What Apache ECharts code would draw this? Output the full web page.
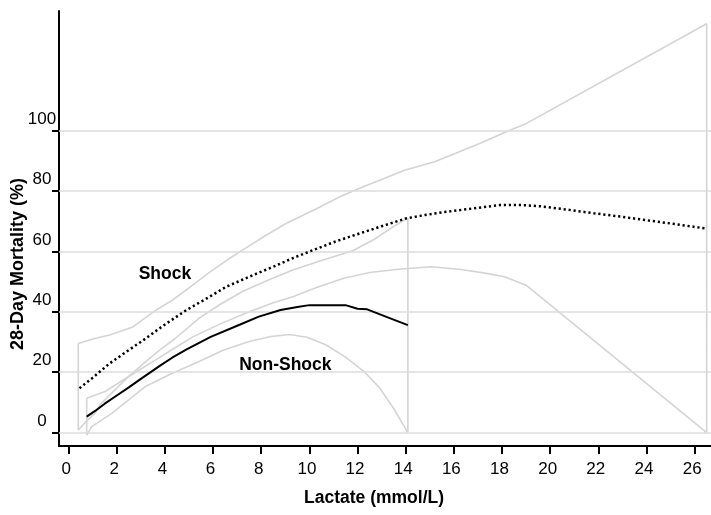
<!DOCTYPE html>
<html>
<head>
<meta charset="utf-8">
<script src="https://cdn.jsdelivr.net/npm/echarts@6/dist/echarts.min.js"></script>
<style>
html,body{margin:0;padding:0;background:#fff;}
#main{width:711px;height:515px;}
</style>
</head>
<body>
<div id="main"></div>
<script>
// ---- data (lactate mmol/L, 28-day mortality %) ----
const xTicks = [0,2,4,6,8,10,12,14,16,18,20,22,24,26];
const yTicks = [0,20,40,60,80,100];
const groupNames = ['Shock','Non-Shock'];

const shockEstimate = [[0.45,14.7],[1.0,18.2],[1.7,22.9],[2.4,26.8],[3.1,30.6],[4.0,35.8],[4.9,40.6],[5.86,45.0],[6.55,48.3],[7.65,52.1],[8.5,54.9],[9.3,57.7],[10.15,60.4],[11.1,63.3],[12.08,65.9],[13.0,68.3],[14.02,70.9],[14.8,72.0],[15.7,73.1],[16.8,74.2],[17.9,75.3],[18.8,75.3],[19.6,74.9],[20.7,73.8],[21.8,72.6],[22.9,71.5],[24.0,70.3],[25.2,69.0],[26.5,67.5]];
const shockUpper = [[0.4,29.5],[1.0,31.0],[1.7,32.3],[2.67,35.0],[3.64,40.6],[4.32,43.9],[5.1,48.5],[5.86,53.1],[6.6,57.2],[7.3,60.8],[8.2,65.3],[9.05,69.3],[10.42,74.6],[11.2,77.8],[12.08,80.9],[12.92,83.5],[13.95,86.8],[15.2,89.6],[16.1,92.5],[17.07,95.7],[18.3,100.0],[18.94,102.0],[26.5,135.3]];
const shockLower = [[0.4,0.9],[0.7,3.5],[1.09,6.4],[1.3,9.2],[1.9,14.0],[2.48,18.5],[3.5,23.5],[4.5,28.5],[5.16,31.7],[6.3,36.0],[7.5,40.0],[8.5,43.0],[9.31,45.0],[10.3,48.0],[11.39,51.0],[12.5,53.0],[13.6,54.0],[14.09,54.3],[15.06,54.9],[16.3,54.0],[17.35,52.7],[18.1,51.6],[19.0,48.8],[26.5,0]];

const nonShockEstimate = [[0.75,5.3],[1.1,7.2],[1.5,9.6],[2.0,12.3],[2.5,15.0],[3.0,17.8],[3.8,22.2],[4.3,24.8],[4.9,27.6],[5.9,31.7],[7.1,35.7],[7.9,38.4],[8.8,40.6],[9.5,41.6],[10.0,42.2],[11.5,42.2],[12.0,41.0],[12.4,40.8],[13.2,38.3],[14.09,35.6]];
const nonShockUpper = [[0.75,11.4],[1.51,13.6],[2.48,18.5],[3.2,23.5],[3.78,27.3],[4.4,31.0],[5.44,38.0],[6.3,42.5],[7.24,46.8],[8.3,50.5],[9.31,53.8],[10.5,57.0],[11.8,60.2],[12.7,64.0],[13.47,68.1],[14.09,71.0]];
const nonShockLower = [[0.75,-0.8],[0.96,2.0],[1.79,6.4],[3.17,15.2],[4.28,19.6],[5.4,23.5],[6.41,27.3],[7.5,30.2],[8.4,31.8],[9.18,32.5],[9.9,31.6],[10.7,29.0],[11.5,25.0],[12.3,20.0],[12.9,15.0],[13.5,8.0],[14.09,0]];

// closed confidence bands (upper -> lower reversed -> close)
function band(upper, lower){
  return upper.concat(lower.slice().reverse(), [upper[0]]);
}

const FONT = '"Liberation Sans", Arial, sans-serif';
const GRAY = '#d4d4d4';

const chart = echarts.init(document.getElementById('main'), null, {renderer:'canvas'});
chart.setOption({
  animation:false,
  backgroundColor:'#ffffff',
  grid:{left:59, right:0, top:11, bottom:69, containLabel:false},
  xAxis:{
    type:'value', min:-0.4, max:26.68,
    axisLine:{show:true, onZero:false, lineStyle:{color:'#000', width:2}},
    axisTick:{show:true, length:8, lineStyle:{color:'#000', width:2}, customValues:xTicks},
    axisLabel:{show:true, customValues:xTicks, margin:15, color:'#000', fontSize:17, fontFamily:FONT, padding:[0,5,0,0]},
    splitLine:{show:false}
  },
  yAxis:{
    type:'value', min:-4.4, max:139.5,
    axisLine:{show:true, onZero:false, lineStyle:{color:'#000', width:2}},
    axisTick:{show:true, length:7, lineStyle:{color:'#000', width:2}, customValues:yTicks},
    axisLabel:{show:true, customValues:yTicks, margin:17, align:'center', verticalAlign:'bottom', padding:[0,0,3,0], color:'#000', fontSize:17, fontFamily:FONT},
    splitLine:{show:false}
  },
  graphic:[
    {type:'text', x:18.5, y:264, rotation:Math.PI/2,
     style:{text:'28-Day Mortality (%)', font:'bold 18px '+FONT, fill:'#000', align:'center', verticalAlign:'middle'}},
    {type:'text', x:374, y:498,
     style:{text:'Lactate (mmol/L)', font:'bold 17.5px '+FONT, fill:'#000', align:'center', verticalAlign:'middle'}}
  ],
  series:[
    {type:'line', name:'grid', data:[], silent:true,
     markLine:{symbol:'none', silent:true, label:{show:false},
       lineStyle:{color:'#dcdcdc', width:1.5, type:'solid'},
       data: yTicks.map(v=>({yAxis:v}))}},
    {type:'line', name:'Shock CI', data:band(shockUpper, shockLower), showSymbol:false, symbol:'none',
     lineStyle:{color:GRAY, width:1.6}, z:3},
    {type:'line', name:'Non-Shock CI', data:band(nonShockUpper, nonShockLower), showSymbol:false, symbol:'none',
     lineStyle:{color:GRAY, width:1.6}, z:3},
    {type:'line', name:'Shock', data:shockEstimate, showSymbol:false, symbol:'none',
     lineStyle:{color:'#000', width:2.5, type:[2.2,2.8]}, z:5},
    {type:'line', name:'Non-Shock', data:nonShockEstimate, showSymbol:false, symbol:'none',
     lineStyle:{color:'#000', width:2}, z:5},
    {type:'scatter', name:'labels', symbolSize:0, silent:true, z:6,
     itemStyle:{opacity:1},
     data:[{value:[4.0,52.5], name:groupNames[0]},{value:[9.0,22.2], name:groupNames[1]}],
     label:{show:true, position:'inside', formatter:'{b}', color:'#000', opacity:1, textBorderWidth:0, fontWeight:'bold', fontSize:17.5, fontFamily:FONT}}
  ]
});
</script>
</body>
</html>
